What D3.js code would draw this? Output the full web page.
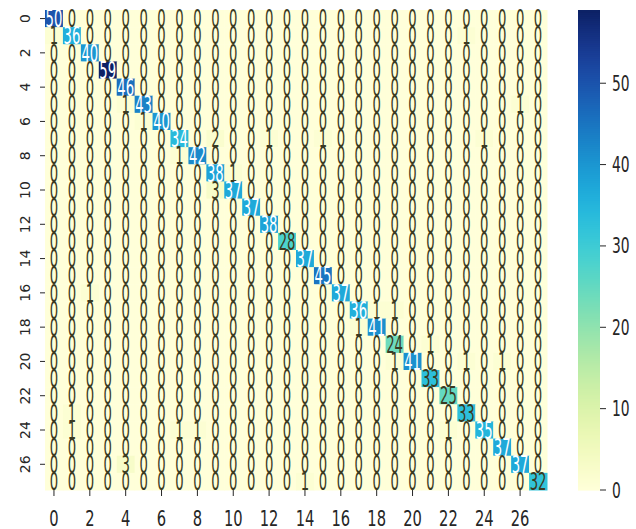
<!DOCTYPE html>
<html>
<head>
<meta charset="utf-8">
<script src="https://cdn.jsdelivr.net/npm/d3@7"></script>
<style>
  body { margin: 0; background: #fff; }
  text { font-family: "DejaVu Sans", sans-serif; }
</style>
</head>
<body>
<div class="chart"></div>
<script>
// class labels (0..27) and the tick labels shown on both axes
var classes = [0,1,2,3,4,5,6,7,8,9,10,11,12,13,14,15,16,17,18,19,20,21,22,23,24,25,26,27];
var tickLabels = [0,2,4,6,8,10,12,14,16,18,20,22,24,26];
// counts on the diagonal (true == predicted)
var diagonal = [50,36,40,59,46,43,40,34,42,38,37,37,38,28,37,45,37,36,41,24,41,33,25,33,35,37,37,32];
// the few non-zero off-diagonal cells: [row, col, count]
var offDiagonal = [
  [1,0,1],[1,23,1],[5,4,1],[5,26,1],[6,5,1],[7,9,2],[7,12,1],[7,15,1],[7,24,1],
  [8,7,1],[9,10,1],[10,9,3],[16,2,1],[17,18,1],[17,19,1],[18,17,1],[19,21,1],
  [20,19,1],[20,23,1],[20,25,1],[23,1,1],[24,1,1],[24,7,1],[24,8,1],[24,22,1],
  [26,4,3],[27,14,1]
];
var colorbarTicks = [0,10,20,30,40,50];

// YlGnBu as it looks in the reference (a bit more saturated than the brewer one)
var cmapColors = ["#ffffd9","#f0f9b8","#d4f1a4","#a6e7a8","#6fdcb8","#3fd0d6","#1fb4e0","#1a8fcd","#1a66ba","#1d3f9e","#0c2165"];

function drawHeatmap() {
  // build the matrix
  var cells = [];
  classes.forEach(function(r) {
    classes.forEach(function(c) {
      var v = r === c ? diagonal[r] : 0;
      offDiagonal.forEach(function(o) { if (o[0] === r && o[1] === c) v = o[2]; });
      cells.push({row: r, col: c, value: v});
    });
  });

  var width = 636, height = 529;
  var svg = d3.select(".chart").append("svg")
      .attr("width", width)
      .attr("height", height);

  var mLeft = 45, mRight = 547, mTop = 10, mBottom = 490;

  var x = d3.scaleBand().domain(classes).range([mLeft, mRight]);
  var y = d3.scaleBand().domain(classes).range([mTop, mBottom]);
  var vmax = d3.max(cells, function(d) { return d.value; });
  var color = d3.scaleSequential(d3.interpolateRgbBasis(cmapColors)).domain([0, vmax]);

  function luminance(c) {
    var rgb = d3.rgb(c);
    var ch = [rgb.r, rgb.g, rgb.b].map(function(v) {
      v = v / 255;
      return v <= 0.03928 ? v / 12.92 : Math.pow((v + 0.055) / 1.055, 2.4);
    });
    return 0.2126 * ch[0] + 0.7152 * ch[1] + 0.0722 * ch[2];
  }

  svg.selectAll("rect.cell")
      .data(cells)
      .enter()
      .append("rect")
      .attr("class", "cell")
      .attr("x", function(d) { return x(d.col); })
      .attr("y", function(d) { return y(d.row); })
      .attr("width", x.bandwidth() + 0.5)
      .attr("height", y.bandwidth() + 0.5)
      .style("fill", function(d) { return color(d.value); });

  // annotations, squeezed like the reference
  svg.selectAll("text.annot")
      .data(cells)
      .enter()
      .append("text")
      .attr("class", "annot")
      .attr("transform", function(d) {
        return "translate(" + (x(d.col) + x.bandwidth() / 2) + "," + (y(d.row) + y.bandwidth() / 2) + ") scale(0.55,1)";
      })
      .attr("text-anchor", "middle")
      .attr("dy", "0.36em")
      .attr("font-size", "24px")
      .style("fill", function(d) { return luminance(color(d.value)) > 0.408 ? "#3a3a22" : "#fff"; })
      .text(function(d) { return d.value; });

  // x axis
  var xAxis = svg.append("g").attr("transform", "translate(0," + mBottom + ")");
  tickLabels.forEach(function(t) {
    var cx = x(t) + x.bandwidth() / 2;
    xAxis.append("line")
        .attr("x1", cx).attr("x2", cx)
        .attr("y1", 0).attr("y2", 6)
        .style("stroke", "#262626").style("stroke-width", 1);
    xAxis.append("text")
        .attr("transform", "translate(" + cx + ",36) scale(0.7,1)")
        .attr("text-anchor", "middle")
        .attr("font-size", "21px")
        .style("fill", "#262626")
        .text(t);
  });

  // y axis
  var yAxis = svg.append("g").attr("transform", "translate(" + mLeft + ",0)");
  tickLabels.forEach(function(t) {
    var cy = y(t) + y.bandwidth() / 2;
    yAxis.append("line")
        .attr("x1", -5).attr("x2", 0)
        .attr("y1", cy).attr("y2", cy)
        .style("stroke", "#262626").style("stroke-width", 1);
    yAxis.append("text")
        .attr("transform", "translate(-20," + cy + ") rotate(-90)")
        .attr("text-anchor", "middle")
        .attr("dy", "0.36em")
        .attr("font-size", "14px")
        .style("fill", "#262626")
        .text(t);
  });

  // colorbar
  var cbX = 578, cbW = 22;
  var cbScale = d3.scaleLinear().domain([0, vmax]).range([mBottom, mTop]);
  var steps = d3.range(0, 240);
  svg.append("g").selectAll("rect")
      .data(steps)
      .enter()
      .append("rect")
      .attr("x", cbX)
      .attr("y", function(i) { return cbScale(vmax * (i + 1) / steps.length); })
      .attr("width", cbW)
      .attr("height", (mBottom - mTop) / steps.length + 0.6)
      .style("fill", function(i) { return color(vmax * (i + 0.5) / steps.length); });

  var cbAxis = svg.append("g").attr("transform", "translate(" + (cbX + cbW) + ",0)");
  colorbarTicks.forEach(function(t) {
    var ty = cbScale(t);
    cbAxis.append("line")
        .attr("x1", 0).attr("x2", 6)
        .attr("y1", ty).attr("y2", ty)
        .style("stroke", "#262626").style("stroke-width", 1);
    cbAxis.append("text")
        .attr("transform", "translate(12," + ty + ") scale(0.66,1)")
        .attr("dy", "0.36em")
        .attr("font-size", "21px")
        .style("fill", "#262626")
        .text(t);
  });
}
drawHeatmap();
</script>
</body>
</html>
